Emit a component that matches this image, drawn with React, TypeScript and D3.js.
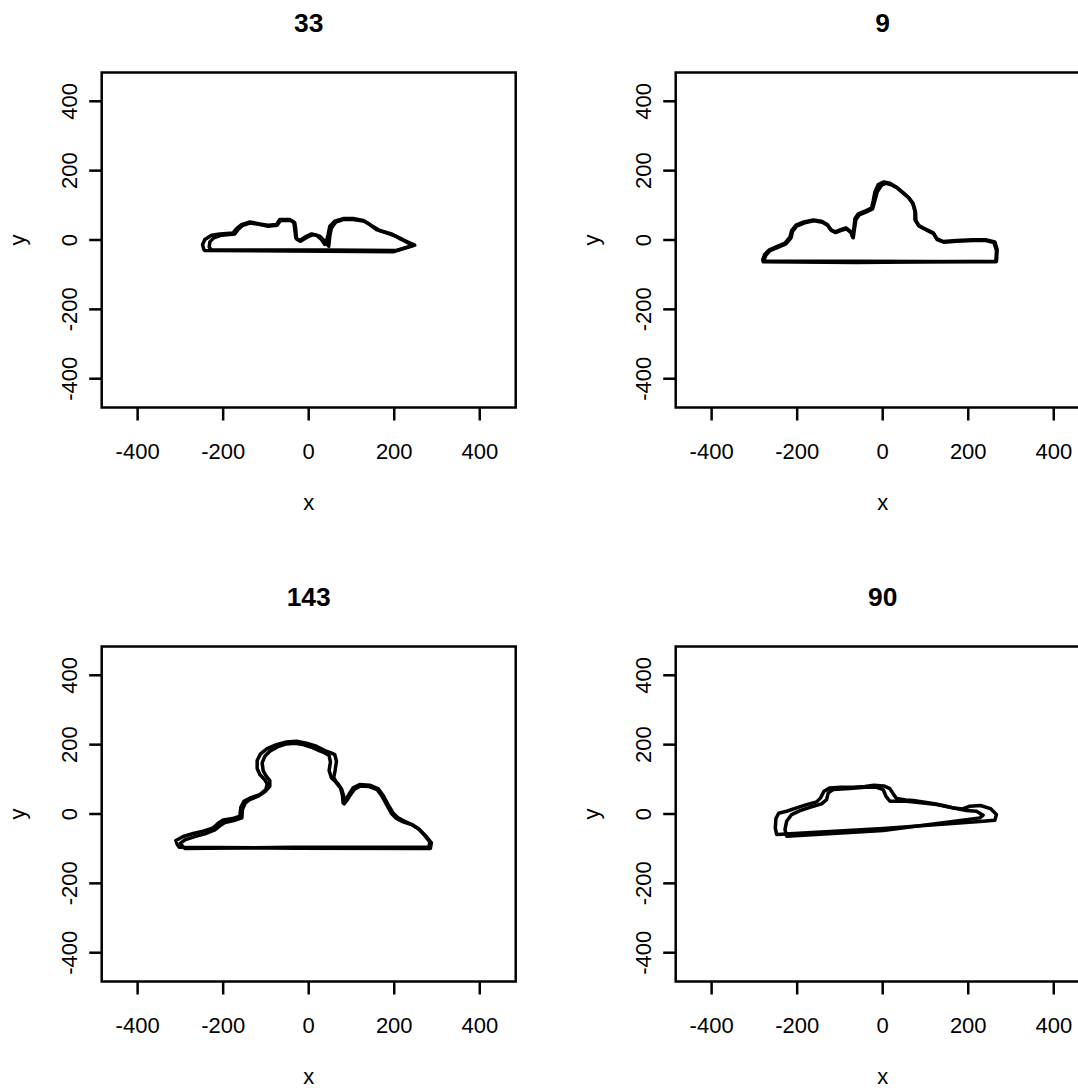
import React from 'react';
import * as d3 from 'd3';

type Pt = [number, number];

// Panel titles and axis ticks
const panelTitles = ['33', '9', '143', '90'];
const xTicks = [-400, -200, 0, 200, 400];
const yTicks = [-400, -200, 0, 200, 400];
const xDomain: [number, number] = [-484, 484];
const yDomain: [number, number] = [-483, 483];

// Outline traces (two contours per panel)
const outline33a: Pt[] = [
  [-242.8, -30.4], [41.5, -32.3], [197.2, -34.2], [247.9, -15], [228.4, -3.5], [205, 10.9],
  [181.6, 20.5], [158.3, 30.1], [142.7, 44.5], [127.1, 56.1], [103.8, 61.8], [80.4, 61.8],
  [60.9, 54.1], [49.3, 39.7], [45.4, 15.7], [41.5, -3.5], [37.6, -13.1], [29.8, 1.3],
  [18.1, 13.8], [6.4, 17.6], [-5.3, 10.9], [-20.8, -1.6], [-30.2, 6.1], [-32.5, 30.1],
  [-34.9, 52.2], [-44.2, 58.9], [-67.6, 58.9], [-75.4, 44.5], [-94.8, 42.6], [-114.3, 46.5],
  [-137.6, 52.2], [-157.1, 44.5], [-168.8, 33.0], [-176.6, 20.5], [-207.7, 17.6], [-227.2, 13.8],
  [-242.8, 1.3], [-248.2, -13.1], [-245.1, -27.5],
];
const outline33b: Pt[] = [
  [-227.2, -28.5], [41.5, -28.5], [205, -30.4], [243.9, -16], [216.6, 1.3], [193.3, 17.6],
  [166, 27.3], [146.5, 41.7], [131, 54.1], [103.8, 58.9], [80.4, 58.9], [63.3, 51.3],
  [53.1, 34.9], [49.3, 10.9], [46.9, -17.9], [37.6, -3.5], [25.9, 10.9], [10.3, 15.7],
  [-3.7, 8], [-19.3, -3.5], [-28.6, 3.2], [-30.2, 30.1], [-32.5, 49.3], [-42.6, 56.1],
  [-66, 56.1], [-73.8, 42.6], [-94.8, 39.7], [-114.3, 44.5], [-136.1, 49.3], [-154.8, 41.7],
  [-165, 30.1], [-172.7, 17.6], [-203.8, 13.8], [-221.8, 6.1], [-231.1, -5.4], [-232.7, -20.8],
];

const outline9a: Pt[] = [
  [-279.1, -63], [-61, -64.9], [266.1, -61.1], [267.6, -27.5], [262.2, -5.4], [242.7, 0.4],
  [211.6, 0.4], [172.6, -1.5], [141.5, -4.4], [125.9, 4.2], [118.1, 20.6], [102.5, 30.2],
  [83.1, 42.7], [75.3, 59], [75.3, 83], [69.8, 107], [59.7, 123.4], [48, 135.8],
  [32.4, 152.2], [16.9, 163.7], [2.8, 167.5], [-10.4, 159.9], [-18.2, 138.7], [-22.1, 113.8],
  [-26, 92.6], [-41.6, 83], [-57.1, 75.3], [-64.9, 61.9], [-67.2, 36.9], [-70.4, 8.1],
  [-74.3, 23.5], [-85.9, 35], [-100, 29.2], [-111.6, 23.5], [-121.8, 30.2], [-129.6, 44.6],
  [-142.8, 54.2], [-162.3, 58], [-184.1, 52.3], [-202.8, 42.7], [-212.9, 27.3], [-216.8, 8.1],
  [-228.5, -9.2], [-247.9, -18.8], [-265.1, -28.4], [-276, -41.9], [-280.6, -57.2],
];
const outline9b: Pt[] = [
  [-275.2, -61.1], [-61, -61.1], [264.5, -63], [266.1, -30.3], [259.8, -7.3], [241.2, -1.5],
  [211.6, -1.5], [172.6, -3.4], [143, -6.3], [127.4, 1.4], [119.7, 17.7], [104.1, 27.3],
  [85.4, 39.8], [77.6, 56.1], [76.8, 81.1], [71.4, 104.1], [61.2, 121.4], [49.6, 133.9],
  [34, 150.3], [18.4, 159.9], [7.5, 163.7], [-2.6, 157.9], [-12.7, 138.7], [-18.2, 113.8],
  [-23.6, 89.7], [-39.2, 80.1], [-54.8, 72.4], [-62.6, 59], [-65.7, 35], [-68.8, 6.2],
  [-73.5, 20.6], [-84.4, 32.1], [-98.4, 27.3], [-110.1, 21.5], [-120.2, 27.3], [-128, 41.7],
  [-141.2, 51.3], [-160.7, 55.2], [-182.5, 49.4], [-201.2, 39.8], [-210.5, 25.4], [-214.4, 6.2],
  [-226.1, -11.1], [-246.4, -21.7], [-263.5, -30.3], [-272.9, -43.8], [-277.5, -57.2],
];

const outline143a: Pt[] = [
  [-302.7, -95.7], [-36.4, -98.6], [284.5, -99.6], [286.8, -83.2], [275.1, -65], [259.6, -45.8],
  [244, -32.3], [224.5, -20.8], [209, -11.2], [197.3, 3.2], [185.6, 27.2], [173.9, 54.1],
  [162.2, 73.4], [142.7, 83], [119.4, 84.9], [103.8, 75.3], [96, 60.9], [88.2, 44.5],
  [80.4, 32.1], [78.9, 54.1], [74.2, 75.3], [64.9, 89.7], [58.6, 106], [61.7, 125.2],
  [64.9, 152.1], [61, 171.3], [50.9, 177.1], [37.6, 182.9], [18.1, 195.4], [-5.2, 204],
  [-28.6, 209.8], [-52, 207.8], [-75.3, 200.2], [-97.1, 188.6], [-112.7, 173.3], [-120.5, 154.1],
  [-120.5, 131], [-114.3, 113.7], [-102.6, 98.3], [-97.1, 86.8], [-100.2, 70.5], [-114.3, 56.1],
  [-136.1, 46.5], [-151.6, 36.9], [-158.7, 19.6], [-161, -6.4], [-178.1, -13.1], [-199.9, -16.9],
  [-211.6, -26.6], [-223.3, -40], [-246.7, -49.6], [-270, -56.3], [-293.4, -65], [-310.5, -76.5],
  [-307.4, -88],
];
const outline143b: Pt[] = [
  [-289.5, -99.6], [-36.4, -95.7], [281.4, -95.7], [283, -80.3], [272, -63], [256.4, -41.9],
  [240.1, -30.4], [220.6, -22.7], [205, -13.1], [194.1, 0.4], [182.8, 25.3], [171.2, 51.3],
  [159.9, 70.5], [141.2, 79.1], [121, 81], [107, 71.4], [99.1, 58], [90.6, 41.6],
  [82.8, 29.2], [82, 51.3], [77.3, 70.5], [68.8, 86.8], [53.2, 104.1], [47.7, 125.2],
  [50.8, 150.2], [47.7, 168.5], [37.6, 176.1], [24.4, 182.9], [6.4, 192.5], [-13, 200.2],
  [-32.5, 204], [-52, 202.1], [-71.4, 194.4], [-90.9, 180.9], [-102.6, 166.5], [-108.8, 147.3],
  [-106.5, 125.2], [-100.2, 110.8], [-90.9, 96.4], [-90.9, 80.1], [-102.6, 63.8], [-118.2, 51.3],
  [-139.2, 40.7], [-148.5, 31.1], [-154.8, 13.8], [-156.3, -11.2], [-175, -18.9], [-196, -24.6],
  [-207.7, -34.2], [-219.4, -45.8], [-242.8, -57.3], [-266.1, -65], [-289.5, -74.6], [-299.6, -84.2],
  [-294.9, -93.8],
];

const outline90a: Pt[] = [
  [-248, -59.2], [1.2, -41.9], [234.9, -20.8], [262.1, -17.9], [266, -1.6], [252, 15.7],
  [228.6, 24.4], [203.7, 22.4], [186.6, 14.8], [164.8, 17.6], [141.4, 24.4], [118, 30.1],
  [94.7, 34.9], [71.3, 38.8], [54.2, 40.7], [32.4, 44.5], [24.6, 58], [16.8, 73.3],
  [2.8, 81], [-20.6, 83], [-41.6, 79.1], [-68.9, 77.2], [-98.5, 77.2], [-123.4, 75.3],
  [-137.4, 65.7], [-145.2, 46.5], [-154.5, 35], [-177.9, 27.2], [-201.3, 17.6], [-224.6, 8],
  [-243.3, 2.3], [-249.6, -13.1], [-251.1, -40],
];
const outline90b: Pt[] = [
  [-224.6, -64], [1.2, -47.7], [227.1, -11.2], [234.9, -3.5], [219.3, 8], [195.9, 10],
  [157, 19.5], [125.8, 27.2], [94.7, 32], [55.7, 36.8], [16.8, 36.8], [7.4, 51.3],
  [1.2, 70.5], [-14.4, 77.2], [-41.6, 77.2], [-76.7, 73.3], [-115.6, 70.5], [-127.3, 60.9],
  [-131.2, 41.6], [-142.9, 29.2], [-170.1, 19.5], [-193.5, 9.9], [-213, -1.6], [-224.6, -20.8],
  [-228.5, -44.8],
];

const panelOutlines: Pt[][][] = [
  [outline33a, outline33b],
  [outline9a, outline9b],
  [outline143a, outline143b],
  [outline90a, outline90b],
];

const W = 1078;
const H = 1091;
const CELL = 574;
const FONT = 'Liberation Sans, Arial, Helvetica, sans-serif';

function Panel({ index }: { index: number }) {
  const col = index % 2;
  const row = Math.floor(index / 2);
  const ox = col * CELL;
  const oy = row * CELL;
  const left = 101.7 + ox;
  const right = 515.7 + ox;
  const top = 72.5 + oy;
  const bottom = 407.5 + oy;

  const x = d3.scaleLinear().domain(xDomain).range([left, right]);
  const y = d3.scaleLinear().domain(yDomain).range([bottom, top]);
  const line = d3
    .line<Pt>()
    .x((d) => x(d[0]))
    .y((d) => y(d[1]))
    .curve(d3.curveLinearClosed);

  const cx = (left + right) / 2;
  const cy = (top + bottom) / 2;

  return (
    <g>
      <text
        x={cx}
        y={31.5 + oy}
        textAnchor="middle"
        fontFamily={FONT}
        fontWeight="bold"
        fontSize={26.4}
        fill="#000"
      >
        {panelTitles[index]}
      </text>

      {panelOutlines[index].map((pts, i) => (
        <path
          key={i}
          d={line(pts) || ''}
          fill="none"
          stroke="#000"
          strokeWidth={3.5}
          strokeLinejoin="round"
        />
      ))}

      <rect
        x={left}
        y={top}
        width={right - left}
        height={bottom - top}
        fill="none"
        stroke="#000"
        strokeWidth={2.5}
      />

      {xTicks.map((t) => (
        <g key={'x' + t}>
          <line x1={x(t)} x2={x(t)} y1={bottom} y2={bottom + 13} stroke="#000" strokeWidth={2.5} />
          <text
            x={x(t)}
            y={459 + oy}
            textAnchor="middle"
            fontFamily={FONT}
            fontSize={22}
            fill="#000"
          >
            {t}
          </text>
        </g>
      ))}

      {yTicks.map((t) => (
        <g key={'y' + t}>
          <line x1={left - 12.5} x2={left} y1={y(t)} y2={y(t)} stroke="#000" strokeWidth={2.5} />
          <text
            transform={`translate(${77 + ox},${y(t)}) rotate(-90)`}
            textAnchor="middle"
            fontFamily={FONT}
            fontSize={22}
            fill="#000"
          >
            {t}
          </text>
        </g>
      ))}

      <text
        x={cx}
        y={510 + oy}
        textAnchor="middle"
        fontFamily={FONT}
        fontSize={22}
        fill="#000"
      >
        x
      </text>
      <text
        transform={`translate(${24.7 + ox},${cy}) rotate(-90)`}
        textAnchor="middle"
        fontFamily={FONT}
        fontSize={22}
        fill="#000"
      >
        y
      </text>
    </g>
  );
}

export default function App() {
  return (
    <svg
      width={W}
      height={H}
      viewBox={`0 0 ${W} ${H}`}
      style={{ position: 'absolute', left: 0, top: 0, background: '#fff' }}
    >
      <rect x={0} y={0} width={W} height={H} fill="#fff" />
      {panelTitles.map((_, i) => (
        <Panel key={i} index={i} />
      ))}
    </svg>
  );
}
